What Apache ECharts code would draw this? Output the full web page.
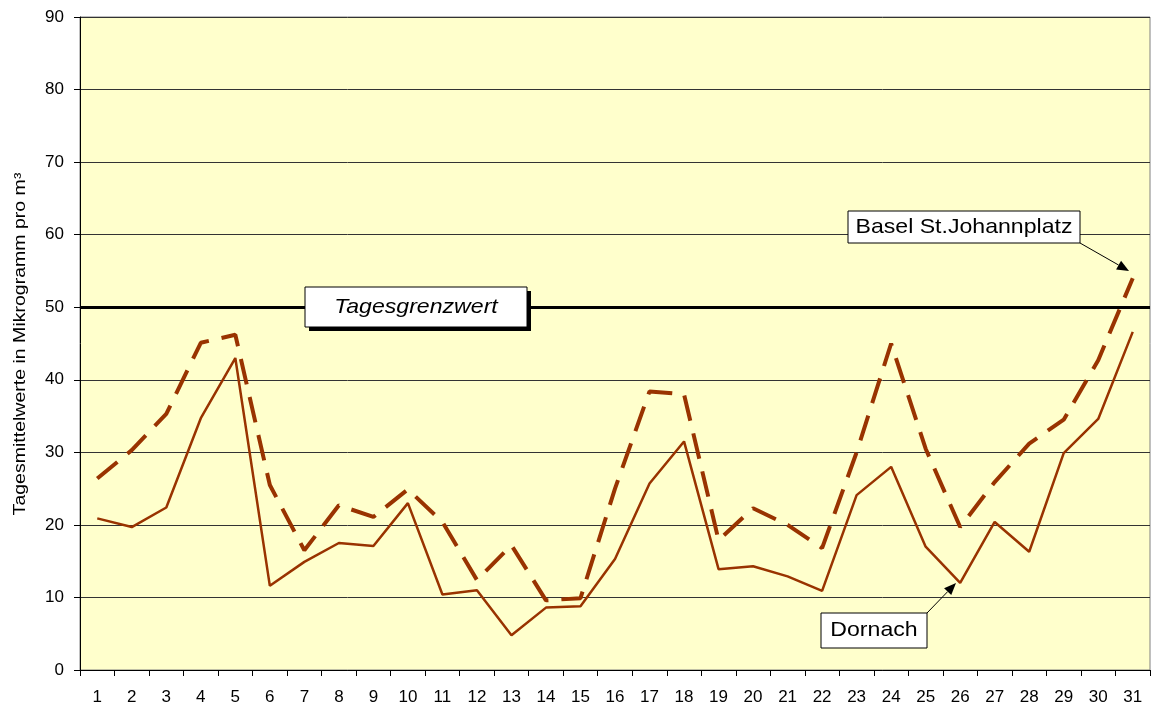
<!DOCTYPE html>
<html lang="de">
<head>
	<meta charset="utf-8">
	<title>Tagesmittelwerte</title>
	<script src="https://cdn.jsdelivr.net/npm/echarts@6/dist/echarts.min.js"></script>
	<style>
		html, body { margin: 0; padding: 0; background: #fff; }
		#chart { width: 1153px; height: 711px; }
	</style>
</head>
<body>
<div id="chart"></div>
<script type="text/javascript">
	// Tage des Monats
	var days = [];
	for (var d = 1; d <= 31; d++) days.push(String(d));

	// Dornach (ausgezogen)
	var dornach = [20.9, 19.7, 22.4, 34.7, 43.0, 11.6, 14.9, 17.5, 17.1, 23.0,
		10.4, 11.0, 4.8, 8.6, 8.8, 15.3, 25.7, 31.5, 13.9, 14.3,
		12.9, 10.9, 24.1, 28.0, 17.0, 12.0, 20.4, 16.3, 29.9, 34.6, 46.6];

	// Basel St.Johannplatz (gestrichelt)
	var basel = [26.4, 30.3, 35.3, 45.1, 46.2, 25.5, 16.5, 22.7, 21.1, 24.9,
		20.4, 12.4, 17.2, 9.6, 9.9, 25.0, 38.4, 38.0, 17.9, 22.3,
		20.0, 16.8, 30.0, 45.0, 30.5, 19.7, 25.9, 31.2, 34.5, 42.7, 54.0];

	var grenzwert = 50;
	var yTicks = [0, 10, 20, 30, 40, 50, 60, 70, 80, 90];

	var FONT = '"Liberation Sans", Arial, sans-serif';
	var myChart = echarts.init(document.getElementById('chart'));

	// Pfeil: Linie + Spitze
	function arrow(x1, y1, x2, y2) {
		var a = Math.atan2(y2 - y1, x2 - x1), L = 12, W = 5;
		var bx = x2 - L * Math.cos(a), by = y2 - L * Math.sin(a);
		return [
			{ type: 'line', z: 100, shape: { x1: x1, y1: y1, x2: bx, y2: by }, style: { stroke: '#000', lineWidth: 1 } },
			{ type: 'polygon', z: 100, shape: { points: [[x2, y2],
				[bx + W * Math.sin(a), by - W * Math.cos(a)],
				[bx - W * Math.sin(a), by + W * Math.cos(a)]] }, style: { fill: '#000' } }
		];
	}

	function box(x, y, w, h, text, italic, shadow) {
		var out = [];
		if (shadow) {
			out.push({ type: 'rect', z: 99, shape: { x: x + 4, y: y + 4, width: w, height: h },
				style: { fill: '#000' } });
		}
		out.push({ type: 'rect', z: 100, shape: { x: x, y: y, width: w, height: h },
			style: { fill: '#fff', stroke: '#000', lineWidth: 1 } });
		out.push({ type: 'text', z: 101, x: x + w / 2, y: y + h / 2, scaleX: 1.1,
			style: { text: text, fill: '#000', align: 'center', verticalAlign: 'middle',
				font: (italic ? 'italic ' : '') + '21px ' + FONT } });
		return out;
	}

	var graphics = []
		.concat(box(305, 287, 222, 40, 'Tagesgrenzwert', true, true))
		.concat(box(848, 211, 232, 32, 'Basel St.Johannplatz', false, false))
		.concat(box(821, 613, 106, 35, 'Dornach', false, false))
		.concat(arrow(1080, 243, 1129, 271))
		.concat(arrow(927, 613, 956, 583));

	// Achsentitel (leicht gestreckt wie im Original)
	graphics.push({
		type: 'text', z: 100, x: 21, y: 344, rotation: Math.PI / 2, scaleX: 1.22,
		style: { text: 'Tagesmittelwerte in Mikrogramm pro m³', fill: '#000',
			align: 'center', verticalAlign: 'middle', font: '16px ' + FONT }
	});

	var option = {
		animation: false,
		textStyle: { fontFamily: FONT },
		grid: {
			left: 80, right: 3, top: 17, bottom: 41,
			show: true, backgroundColor: '#FFFFCC', borderColor: '#808080', borderWidth: 1
		},
		xAxis: {
			type: 'category',
			data: days,
			boundaryGap: true,
			axisLine: { lineStyle: { color: '#000', width: 1 } },
			axisTick: { show: true, length: 6, lineStyle: { color: '#000' } },
			axisLabel: { color: '#000', fontSize: 17, margin: 19 },
			splitLine: { show: false }
		},
		yAxis: {
			type: 'value',
			min: yTicks[0], max: yTicks[yTicks.length - 1], interval: 10,
			axisLine: { show: true, lineStyle: { color: '#000', width: 1 } },
			axisTick: { show: true, length: 6, lineStyle: { color: '#000' } },
			axisLabel: { color: '#000', fontSize: 17, margin: 16 },
			splitLine: { show: true, lineStyle: { color: '#333', width: 1 } }
		},
		series: [
			{
				name: 'Basel St.Johannplatz',
				type: 'line',
				data: basel,
				symbol: 'none',
				lineStyle: { color: '#993300', width: 4, type: [26, 13], cap: 'butt' },
				z: 3,
				markLine: {
					silent: true, symbol: ['none', 'none'],
					label: { show: false },
					lineStyle: { color: '#000', width: 3, type: 'solid' },
					data: [{ yAxis: grenzwert }]
				}
			},
			{
				name: 'Dornach',
				type: 'line',
				data: dornach,
				symbol: 'none',
				lineStyle: { color: '#993300', width: 2.5 },
				z: 4
			}
		],
		graphic: graphics
	};
	myChart.setOption(option);
</script>
</body>
</html>
